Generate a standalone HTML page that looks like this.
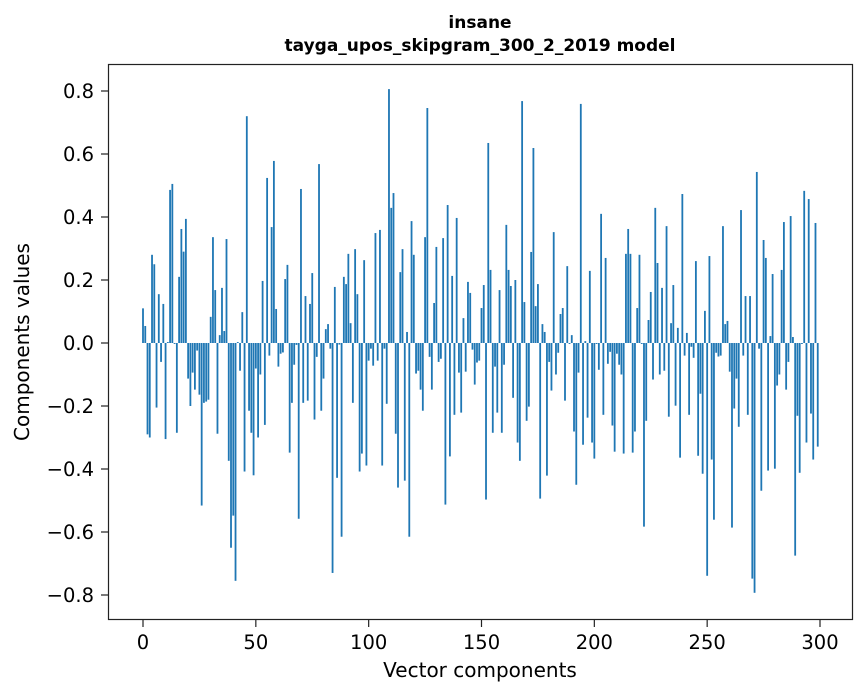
<!DOCTYPE html>
<html><head><meta charset="utf-8">
<style>
body{margin:0;background:#fff;width:867px;height:696px;overflow:hidden}
svg{display:block;font-family:"DejaVu Sans","Liberation Sans",sans-serif}
</style></head>
<body>
<svg id="chart" width="867" height="696" xmlns="http://www.w3.org/2000/svg">
<rect x="0" y="0" width="867" height="696" fill="#fff"/>
<text x="480" y="28" text-anchor="middle" font-size="17" font-weight="bold">insane</text>
<text x="480" y="51" text-anchor="middle" font-size="17" font-weight="bold">tayga_upos_skipgram_300_2_2019 model</text>
<g id="bars"></g>
<g id="xticks"></g>
<g id="yticks"></g>
<rect x="108.5" y="64.5" width="744" height="555" fill="none" stroke="#222" stroke-width="1.2"/>
<text x="480" y="677" text-anchor="middle" font-size="20">Vector components</text>
<text x="0" y="0" transform="translate(29,342) rotate(-90)" text-anchor="middle" font-size="20">Components values</text>
</svg>
<script>
const values = [
0.11,0.054,-0.29,-0.30,0.28,0.25,-0.205,0.155,-0.06,0.124,
-0.305,0.003,0.486,0.505,-0.003,-0.285,0.21,0.362,0.29,0.394,
-0.113,-0.2,-0.094,-0.148,-0.024,-0.164,-0.516,-0.19,-0.186,-0.18,
0.083,0.336,0.168,-0.288,0.025,0.175,0.038,0.33,-0.374,-0.65,
-0.548,-0.755,0.003,-0.088,0.098,-0.408,0.72,-0.215,-0.285,-0.42,
-0.081,-0.30,-0.1,0.197,-0.26,0.524,-0.04,0.368,0.578,0.108,
-0.075,-0.034,-0.03,0.203,0.248,-0.348,-0.19,-0.069,-0.006,-0.558,
0.489,-0.19,0.149,-0.183,0.124,0.222,-0.243,-0.044,0.568,-0.215,
-0.113,0.044,0.06,-0.018,-0.73,0.178,-0.428,-0.005,-0.615,0.21,
0.187,0.283,0.063,-0.19,0.298,0.155,-0.408,-0.351,0.263,-0.389,
-0.056,-0.018,-0.072,0.349,-0.056,0.359,-0.389,-0.018,-0.193,0.806,
0.429,0.476,-0.288,-0.459,0.225,0.298,-0.437,0.035,-0.615,0.387,
0.28,-0.097,-0.088,-0.148,-0.215,0.336,0.746,-0.044,-0.148,0.127,
0.305,-0.06,-0.05,0.333,-0.513,0.438,-0.36,0.213,-0.228,0.397,
-0.094,-0.221,0.079,-0.091,0.194,0.159,-0.021,-0.132,-0.062,-0.056,
0.111,0.184,-0.497,0.635,0.232,-0.285,-0.075,-0.221,0.168,-0.285,
-0.069,0.375,0.232,0.181,-0.174,0.2,-0.316,-0.374,0.768,0.13,
-0.247,-0.202,0.289,0.619,0.117,0.187,-0.494,0.06,0.035,-0.421,
-0.06,-0.151,0.352,-0.1,-0.031,0.092,0.111,-0.183,0.244,-0.003,
0.025,-0.281,-0.45,-0.094,0.759,-0.323,0.006,-0.237,0.229,-0.316,
-0.367,-0.003,-0.085,0.41,-0.228,0.27,-0.066,-0.028,-0.262,-0.345,
-0.034,-0.069,-0.1,-0.351,0.283,0.362,0.283,-0.348,-0.281,0.111,
0.28,-0.003,-0.583,-0.247,0.073,0.162,-0.116,0.429,0.254,-0.1,
0.175,-0.088,0.371,-0.234,0.063,0.184,-0.199,0.048,-0.364,0.473,
-0.04,0.032,-0.228,-0.012,-0.047,0.26,-0.358,-0.161,-0.415,0.102,
-0.739,0.276,-0.37,-0.561,-0.031,-0.043,-0.04,0.371,0.06,0.07,
-0.091,-0.586,-0.208,-0.113,-0.266,0.422,-0.04,0.149,-0.228,0.149,
-0.748,-0.793,0.543,-0.018,-0.469,0.327,0.27,-0.405,0.022,0.219,
-0.399,-0.135,-0.1,0.232,0.384,-0.148,-0.06,0.403,0.019,-0.675,
-0.231,-0.412,-0.003,0.483,-0.316,0.457,-0.224,-0.37,0.381,-0.329
];
const xTickValues = [0,50,100,150,200,250,300];
const yTickValues = [-0.8,-0.6,-0.4,-0.2,0.0,0.2,0.4,0.6,0.8];
const yTickLabels = ["\u22120.8","\u22120.6","\u22120.4","\u22120.2","0.0","0.2","0.4","0.6","0.8"];

const NS = "http://www.w3.org/2000/svg";
const xScale = v => 143 + v * (677 / 300);
const yScale = v => 343 - v * 315;
const barW = 0.8 * (677 / 300);

const gb = document.getElementById('bars');
values.forEach((v, i) => {
  const r = document.createElementNS(NS, 'rect');
  const y0 = yScale(0), y1 = yScale(v);
  r.setAttribute('x', xScale(i) - barW / 2);
  r.setAttribute('y', Math.min(y0, y1));
  r.setAttribute('width', barW);
  r.setAttribute('height', Math.max(Math.abs(y1 - y0), 0.3));
  r.setAttribute('fill', '#1f77b4');
  
  
  gb.appendChild(r);
});

const gx = document.getElementById('xticks');
xTickValues.forEach(t => {
  const x = xScale(t);
  const l = document.createElementNS(NS, 'line');
  l.setAttribute('x1', x); l.setAttribute('x2', x);
  l.setAttribute('y1', 620); l.setAttribute('y2', 627);
  l.setAttribute('stroke', '#222');
  l.setAttribute('stroke-width', '1.2');
  
  
  gx.appendChild(l);
  const tx = document.createElementNS(NS, 'text');
  tx.setAttribute('x', x); tx.setAttribute('y', 649);
  tx.setAttribute('text-anchor', 'middle');
  tx.setAttribute('font-size', '19.5');
  tx.textContent = t;
  
  
  gx.appendChild(tx);
});

const gy = document.getElementById('yticks');
yTickValues.forEach((t, k) => {
  const y = yScale(t);
  const l = document.createElementNS(NS, 'line');
  l.setAttribute('x1', 101); l.setAttribute('x2', 108);
  l.setAttribute('y1', y); l.setAttribute('y2', y);
  l.setAttribute('stroke', '#222');
  l.setAttribute('stroke-width', '1.2');
  
  
  gy.appendChild(l);
  const tx = document.createElementNS(NS, 'text');
  tx.setAttribute('x', 94); tx.setAttribute('y', y + 7);
  tx.setAttribute('text-anchor', 'end');
  tx.setAttribute('font-size', '19.5');
  tx.textContent = yTickLabels[k];
  
  
  gy.appendChild(tx);
});
</script>
</body></html>
